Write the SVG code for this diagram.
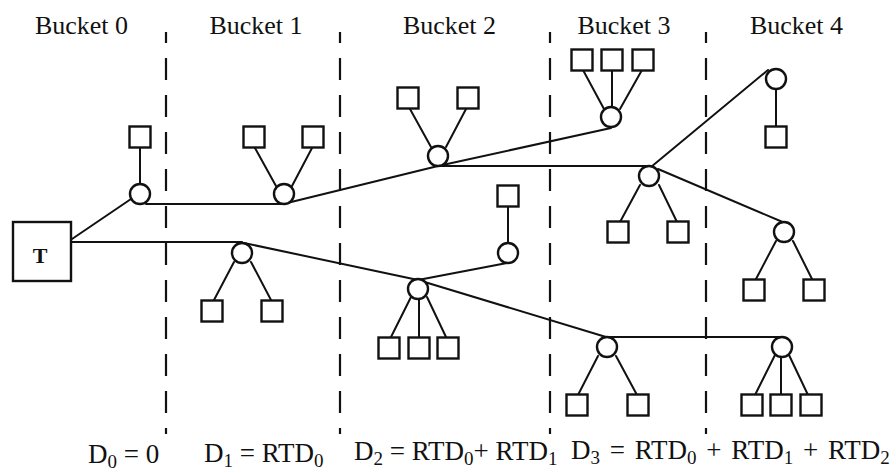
<svg xmlns="http://www.w3.org/2000/svg" width="896" height="473" viewBox="0 0 896 473">
<style>
.bg{fill:#fff}
.div{stroke:#111;stroke-width:2.2;stroke-dasharray:22 15;stroke-dashoffset:11;fill:none}
.ln{stroke:#111;stroke-width:2;fill:none;stroke-linecap:round}
.c{fill:#fff;stroke:#111;stroke-width:2.4}
.s{fill:#fff;stroke:#111;stroke-width:2.4}
.lbl{font-family:"Liberation Serif","Times New Roman",serif;font-size:26px;fill:#111}
.eq{font-family:"Liberation Serif","Times New Roman",serif;font-size:27px;fill:#111}
.sub{font-size:19px}
.t{font-family:"Liberation Serif","Times New Roman",serif;font-size:22px;font-weight:bold;fill:#111}
</style>
<rect class="bg" x="0" y="0" width="896" height="473"/>
<g id="dividers">
<line class="div" x1="166" y1="32" x2="166" y2="434"/>
<line class="div" x1="340" y1="32" x2="340" y2="434"/>
<line class="div" x1="550" y1="32" x2="550" y2="434"/>
<line class="div" x1="706" y1="32" x2="706" y2="434"/>
</g>
<g id="labels">
<text class="lbl" x="81.5" y="34" text-anchor="middle">Bucket 0</text>
<text class="lbl" x="256" y="34" text-anchor="middle">Bucket 1</text>
<text class="lbl" x="449.5" y="34" text-anchor="middle">Bucket 2</text>
<text class="lbl" x="624" y="34" text-anchor="middle">Bucket 3</text>
<text class="lbl" x="796.5" y="34" text-anchor="middle">Bucket 4</text>
<text class="eq" x="88" y="463">D<tspan class="sub" dy="5">0</tspan><tspan dy="-5"> = 0</tspan></text>
<text class="eq" x="204" y="462">D<tspan class="sub" dy="5">1</tspan><tspan dy="-5"> = RTD</tspan><tspan class="sub" dy="5">0</tspan></text>
<text class="eq" x="354" y="460">D<tspan class="sub" dy="5">2</tspan><tspan dy="-5"> = RTD</tspan><tspan class="sub" dy="5">0</tspan><tspan dy="-5">+ RTD</tspan><tspan class="sub" dy="5">1</tspan></text>
<text class="eq" x="571" y="459" word-spacing="3">D<tspan class="sub" dy="5">3</tspan><tspan dy="-5"> = RTD</tspan><tspan class="sub" dy="5">0</tspan><tspan dy="-5"> + RTD</tspan><tspan class="sub" dy="5">1</tspan><tspan dy="-5"> + RTD</tspan><tspan class="sub" dy="5">2</tspan></text>
</g>
<g id="connectors">
<line class="ln" x1="72" y1="239" x2="131" y2="199"/>
<line class="ln" x1="140" y1="147" x2="140" y2="184"/>
<line class="ln" x1="146" y1="204" x2="283" y2="204"/>
<line class="ln" x1="283" y1="204" x2="438" y2="166"/>
<line class="ln" x1="255" y1="148" x2="276" y2="186"/>
<line class="ln" x1="312" y1="148" x2="292" y2="186"/>
<line class="ln" x1="410" y1="109" x2="431" y2="147"/>
<line class="ln" x1="466" y1="109" x2="446" y2="147"/>
<line class="ln" x1="438" y1="166" x2="611" y2="128"/>
<line class="ln" x1="583" y1="70" x2="604" y2="109"/>
<line class="ln" x1="612" y1="70" x2="612" y2="107"/>
<line class="ln" x1="642" y1="70" x2="620" y2="109"/>
<line class="ln" x1="438" y1="166" x2="649" y2="166"/>
<line class="ln" x1="651" y1="167" x2="768" y2="70"/>
<line class="ln" x1="776" y1="89" x2="776" y2="127"/>
<line class="ln" x1="620" y1="222" x2="640" y2="185"/>
<line class="ln" x1="677" y1="222" x2="659" y2="185"/>
<line class="ln" x1="658" y1="169" x2="785" y2="223"/>
<line class="ln" x1="756" y1="279" x2="776" y2="241"/>
<line class="ln" x1="812" y1="279" x2="793" y2="241"/>
<line class="ln" x1="72" y1="242" x2="242" y2="242"/>
<line class="ln" x1="214" y1="300" x2="234" y2="262"/>
<line class="ln" x1="271" y1="300" x2="251" y2="262"/>
<line class="ln" x1="244" y1="243" x2="418" y2="280"/>
<line class="ln" x1="391" y1="337" x2="411" y2="297"/>
<line class="ln" x1="419" y1="337" x2="419" y2="299"/>
<line class="ln" x1="446" y1="337" x2="427" y2="297"/>
<line class="ln" x1="418" y1="280" x2="507" y2="263"/>
<line class="ln" x1="508" y1="207" x2="508" y2="243"/>
<line class="ln" x1="418" y1="280" x2="606" y2="337"/>
<line class="ln" x1="606" y1="337" x2="782" y2="337"/>
<line class="ln" x1="578" y1="395" x2="598" y2="356"/>
<line class="ln" x1="637" y1="395" x2="616" y2="356"/>
<line class="ln" x1="755" y1="395" x2="775" y2="355"/>
<line class="ln" x1="781" y1="395" x2="781" y2="357"/>
<line class="ln" x1="808" y1="395" x2="789" y2="355"/>
</g>
<g id="T"><rect class="s" x="13" y="222" width="58" height="59"/><text class="t" x="40" y="263" text-anchor="middle">T</text></g>
<g id="nA"><circle class="c" cx="140" cy="194" r="10"/></g>
<g id="nB"><circle class="c" cx="284" cy="194" r="10"/></g>
<g id="nC"><circle class="c" cx="438" cy="156" r="10"/></g>
<g id="nD"><circle class="c" cx="611" cy="117" r="10"/></g>
<g id="nE"><circle class="c" cx="649" cy="176" r="10"/></g>
<g id="nF"><circle class="c" cx="776" cy="79" r="10"/></g>
<g id="nG"><circle class="c" cx="784" cy="232" r="10"/></g>
<g id="nH"><circle class="c" cx="242" cy="253" r="10"/></g>
<g id="nI"><circle class="c" cx="418" cy="289" r="10"/></g>
<g id="nJ"><circle class="c" cx="508" cy="253" r="10"/></g>
<g id="nK"><circle class="c" cx="607" cy="347" r="10"/></g>
<g id="nL"><circle class="c" cx="782" cy="347" r="10"/></g>
<g id="sA"><rect class="s" x="129.5" y="126.5" width="21" height="21"/></g>
<g id="sB1"><rect class="s" x="243.5" y="126.5" width="21" height="21"/></g>
<g id="sB2"><rect class="s" x="302.5" y="126.5" width="21" height="21"/></g>
<g id="sC1"><rect class="s" x="397.5" y="87.5" width="21" height="21"/></g>
<g id="sC2"><rect class="s" x="457.5" y="87.5" width="21" height="21"/></g>
<g id="sD1"><rect class="s" x="571.5" y="49.5" width="21" height="21"/></g>
<g id="sD2"><rect class="s" x="601.5" y="49.5" width="21" height="21"/></g>
<g id="sD3"><rect class="s" x="632.5" y="49.5" width="21" height="21"/></g>
<g id="sE1"><rect class="s" x="607.5" y="221.5" width="21" height="21"/></g>
<g id="sE2"><rect class="s" x="667.5" y="221.5" width="21" height="21"/></g>
<g id="sF1"><rect class="s" x="765.5" y="126.5" width="21" height="21"/></g>
<g id="sG1"><rect class="s" x="743.5" y="279.5" width="21" height="21"/></g>
<g id="sG2"><rect class="s" x="803.5" y="279.5" width="21" height="21"/></g>
<g id="sH1"><rect class="s" x="201.5" y="300.5" width="21" height="21"/></g>
<g id="sH2"><rect class="s" x="261.5" y="300.5" width="21" height="21"/></g>
<g id="sI1"><rect class="s" x="378.5" y="337.5" width="21" height="21"/></g>
<g id="sI2"><rect class="s" x="408.5" y="337.5" width="21" height="21"/></g>
<g id="sI3"><rect class="s" x="437.5" y="337.5" width="21" height="21"/></g>
<g id="sJ1"><rect class="s" x="497.5" y="185.5" width="21" height="21"/></g>
<g id="sK1"><rect class="s" x="566.5" y="394.5" width="21" height="21"/></g>
<g id="sK2"><rect class="s" x="627.5" y="394.5" width="21" height="21"/></g>
<g id="sL1"><rect class="s" x="741.5" y="394.5" width="21" height="21"/></g>
<g id="sL2"><rect class="s" x="770.5" y="394.5" width="21" height="21"/></g>
<g id="sL3"><rect class="s" x="800.5" y="394.5" width="21" height="21"/></g>
</svg>
